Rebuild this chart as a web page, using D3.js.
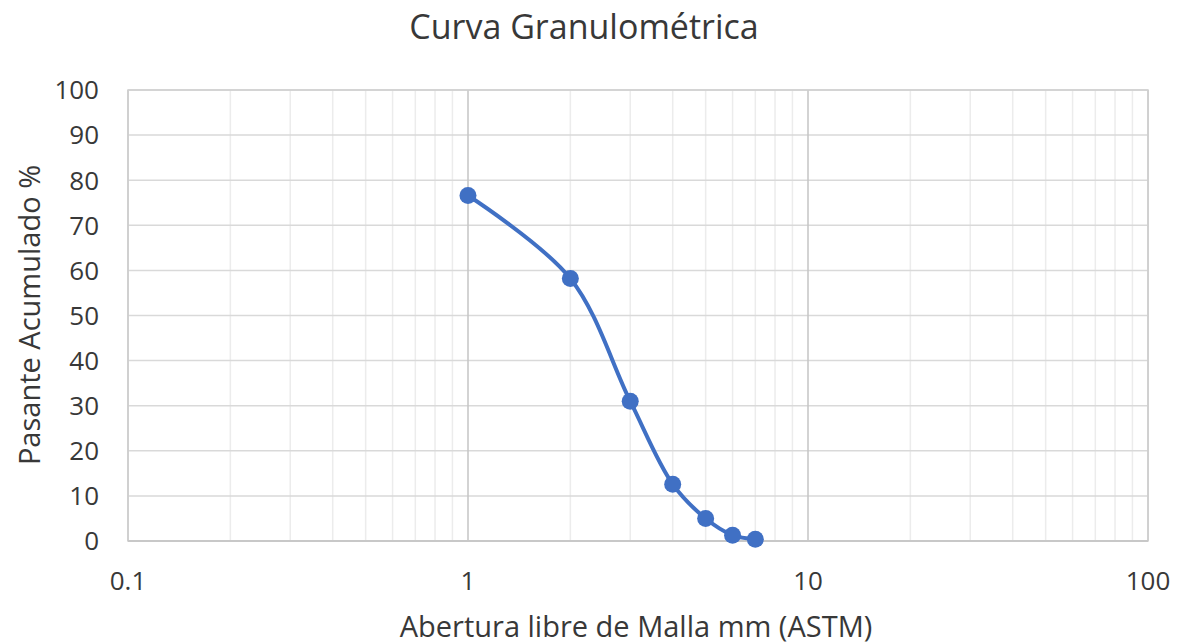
<!DOCTYPE html>
<html lang="es">
<head>
<meta charset="utf-8">
<script src="https://d3js.org/d3.v7.min.js"></script>
<style>
  body { margin: 0; background: #fff; }
  text { font-family: "Open Sans", "Noto Sans", sans-serif; fill: #383838; }
</style>
</head>
<body>
<svg width="1182" height="644"></svg>
<script>
// abertura (mm) vs pasante acumulado (%)
var abertura = [1, 2, 3, 4, 5, 6, 7];
var pasante = [76.6, 58.2, 31.0, 12.6, 5.0, 1.3, 0.4];
var xTicks = [0.1, 1, 10, 100];
var yTicks = [0, 10, 20, 30, 40, 50, 60, 70, 80, 90, 100];

var svg = d3.select("svg");
var pLeft = 128, pRight = 1148, pTop = 90, pBottom = 541;

var x = d3.scaleLog().domain([0.1, 100]).range([pLeft, pRight]);
var y = d3.scaleLinear().domain([0, 100]).range([pBottom, pTop]);

// minor vertical grid (2..9 each decade)
var minor = [];
[0.1, 1, 10].forEach(function(d) {
  for (var k = 2; k <= 9; k++) minor.push(d * k);
});
svg.append("g").selectAll("line").data(minor).enter().append("line")
  .attr("x1", function(d) { return x(d); }).attr("x2", function(d) { return x(d); })
  .attr("y1", pTop).attr("y2", pBottom)
  .attr("stroke", "#ececec").attr("stroke-width", 1.5);

// horizontal grid
svg.append("g").selectAll("line").data(yTicks).enter().append("line")
  .attr("x1", pLeft).attr("x2", pRight)
  .attr("y1", function(d) { return y(d); }).attr("y2", function(d) { return y(d); })
  .attr("stroke", "#d9d9d9").attr("stroke-width", 1.5);

// major vertical grid
svg.append("g").selectAll("line").data(xTicks).enter().append("line")
  .attr("x1", function(d) { return x(d); }).attr("x2", function(d) { return x(d); })
  .attr("y1", pTop).attr("y2", pBottom)
  .attr("stroke", "#c4c4c4").attr("stroke-width", 1.5);

// frame
svg.append("rect").attr("x", pLeft).attr("y", pTop)
  .attr("width", pRight - pLeft).attr("height", pBottom - pTop)
  .attr("fill", "none").attr("stroke", "#d0d0d0").attr("stroke-width", 1.5);
svg.append("line").attr("x1", pLeft).attr("x2", pRight).attr("y1", pBottom).attr("y2", pBottom)
  .attr("stroke", "#c8c8c8").attr("stroke-width", 2);

// tick labels
svg.append("g").selectAll("text").data(yTicks).enter().append("text")
  .attr("x", pLeft - 29).attr("y", function(d) { return y(d); })
  .attr("dy", "0.36em").attr("text-anchor", "end")
  .attr("font-size", 26).text(function(d) { return d; });

svg.append("g").selectAll("text").data(xTicks).enter().append("text")
  .attr("x", function(d) { return x(d); }).attr("y", 590)
  .attr("text-anchor", "middle").attr("font-size", 26)
  .text(function(d) { return d; });

// titles
svg.append("text").attr("x", 584).attr("y", 39).attr("text-anchor", "middle")
  .attr("font-size", 34).text("Curva Granulométrica");
svg.append("text").attr("x", 636).attr("y", 637).attr("text-anchor", "middle")
  .attr("font-size", 29).text("Abertura libre de Malla mm (ASTM)");
svg.append("text").attr("transform", "translate(40,315) rotate(-90)")
  .attr("text-anchor", "middle").attr("font-size", 29).text("Pasante Acumulado %");

// curve
var pts = abertura.map(function(d, i) { return [d, pasante[i]]; });
var line = d3.line()
  .x(function(d) { return x(d[0]); })
  .y(function(d) { return y(d[1]); })
  .curve(d3.curveCatmullRom.alpha(0.5));

svg.append("path").datum(pts).attr("d", line)
  .attr("fill", "none").attr("stroke", "#4070c4").attr("stroke-width", 4);

svg.append("g").selectAll("circle").data(pts).enter().append("circle")
  .attr("cx", function(d) { return x(d[0]); })
  .attr("cy", function(d) { return y(d[1]); })
  .attr("r", 8.5).attr("fill", "#4070c4");
</script>
</body>
</html>
